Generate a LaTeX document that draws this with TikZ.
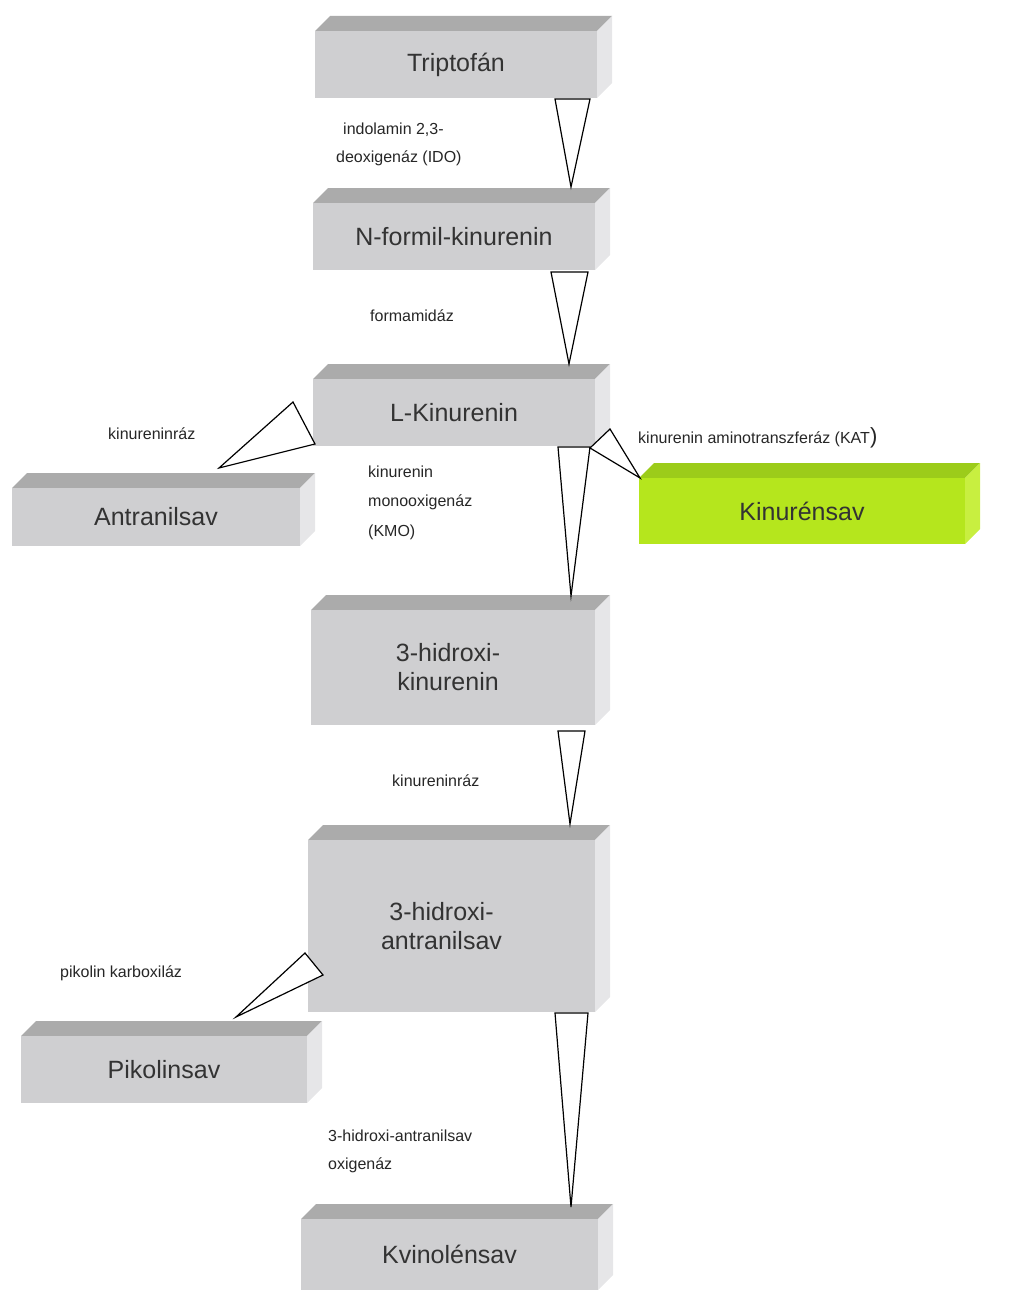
\documentclass[tikz,border=0pt]{standalone}
\usepackage{fontspec}
\setmainfont{Liberation Sans}
\begin{document}
\begin{tikzpicture}[x=1pt,y=-1pt,
  wedge/.style={draw=black,fill=white,line width=1.2pt,line join=miter},
  lbl/.style={anchor=west,font=\fontsize{16}{19}\selectfont,text=black!85,inner sep=0pt},
  boxtxt/.style={font=\fontsize{25}{29}\selectfont,text=black!80,align=center}]
\useasboundingbox (0,0) rectangle (1024,1311);
\newcommand{\cubebox}[8]{%
  % #1 name #2 x1 #3 y1 #4 x2 #5 y2 #6 front #7 top #8 side
  \fill[#7] (#2,#3) -- (#2+15,#3-15) -- (#4+15,#3-15) -- (#4,#3) -- cycle;
  \fill[#8] (#4,#3) -- (#4+15,#3-15) -- (#4+15,#5-15) -- (#4,#5) -- cycle;
  \fill[#6] (#2,#3) rectangle (#4,#5);
  \coordinate (#1) at ({(#2+#4)/2},{(#3+#5)/2});}
\definecolor{gf}{HTML}{CFCFD1}\definecolor{gt}{HTML}{ABABAB}\definecolor{gs}{HTML}{E6E6E8}
\definecolor{lf}{HTML}{B5E61D}\definecolor{lt}{HTML}{9CCC1A}\definecolor{ls}{HTML}{C8EF40}
\cubebox{trp}{315}{31}{597}{98}{gf}{gt}{gs}
\cubebox{nfk}{313}{203}{595}{270}{gf}{gt}{gs}
\cubebox{lk}{313}{379}{595}{446}{gf}{gt}{gs}
\cubebox{ant}{12}{488}{300}{546}{gf}{gt}{gs}
\cubebox{kyn}{639}{478}{965}{544}{lf}{lt}{ls}
\cubebox{hk}{311}{610}{595}{725}{gf}{gt}{gs}
\cubebox{ha}{308}{840}{595}{1012}{gf}{gt}{gs}
\cubebox{pik}{21}{1036}{307}{1103}{gf}{gt}{gs}
\cubebox{kvi}{301}{1219}{598}{1290}{gf}{gt}{gs}
\node[boxtxt] (ttrp) at (trp) {Triptofán};
\node[boxtxt] (tnfk) at (nfk) {N-formil-kinurenin};
\node[boxtxt] (tlk) at (lk) {L-Kinurenin};
\node[boxtxt] (tant) at (ant) {Antranilsav};
\node[boxtxt] (tkyn) at (kyn) {Kinurénsav};
\node[boxtxt] (thk) at ([xshift=-5pt]hk) {3-hidroxi-\\kinurenin};
\node[boxtxt] (tha) at ([xshift=-10pt]ha) {3-hidroxi-\\antranilsav};
\node[boxtxt] (tpik) at (pik) {Pikolinsav};
\node[boxtxt] (tkvi) at (kvi) {Kvinolénsav};
\draw[wedge] (555,99) -- (590,99) -- (571,187) -- cycle;
\draw[wedge] (551,272) -- (588,272) -- (569,364) -- cycle;
\draw[wedge] (558,447) -- (590,447) -- (571,596) -- cycle;
\draw[wedge] (558,731) -- (585,731) -- (570,824) -- cycle;
\draw[wedge] (555,1013) -- (588,1013) -- (571,1207) -- cycle;
\draw[wedge] (293,402) -- (315,444) -- (219,468) -- cycle;
\draw[wedge] (610,429) -- (590,448) -- (640,478) -- cycle;
\draw[wedge] (305,953) -- (323,975) -- (236,1017) -- cycle;
\node[lbl] (l1) at (343,130) {indolamin 2,3-};
\node[lbl] (l2) at (336,158) {deoxigenáz (IDO)};
\node[lbl] (l3) at (370,316) {formamidáz};
\node[lbl] (l4) at (108,434) {kinureninráz};
\node[lbl] (l5) at (638,438) {kinurenin aminotranszferáz (KAT{\fontsize{22}{22}\selectfont)}};
\node[lbl] (l6) at (368,472) {kinurenin};
\node[lbl] (l7) at (368,502) {monooxigenáz};
\node[lbl] (l8) at (368,532) {(KMO)};
\node[lbl] (l9) at (392,781) {kinureninráz};
\node[lbl] (l10) at (60,973) {pikolin karboxiláz};
\node[lbl] (l11) at (328,1136) {3-hidroxi-antranilsav};
\node[lbl] (l12) at (328,1165) {oxigenáz};
\end{tikzpicture}
\end{document}
